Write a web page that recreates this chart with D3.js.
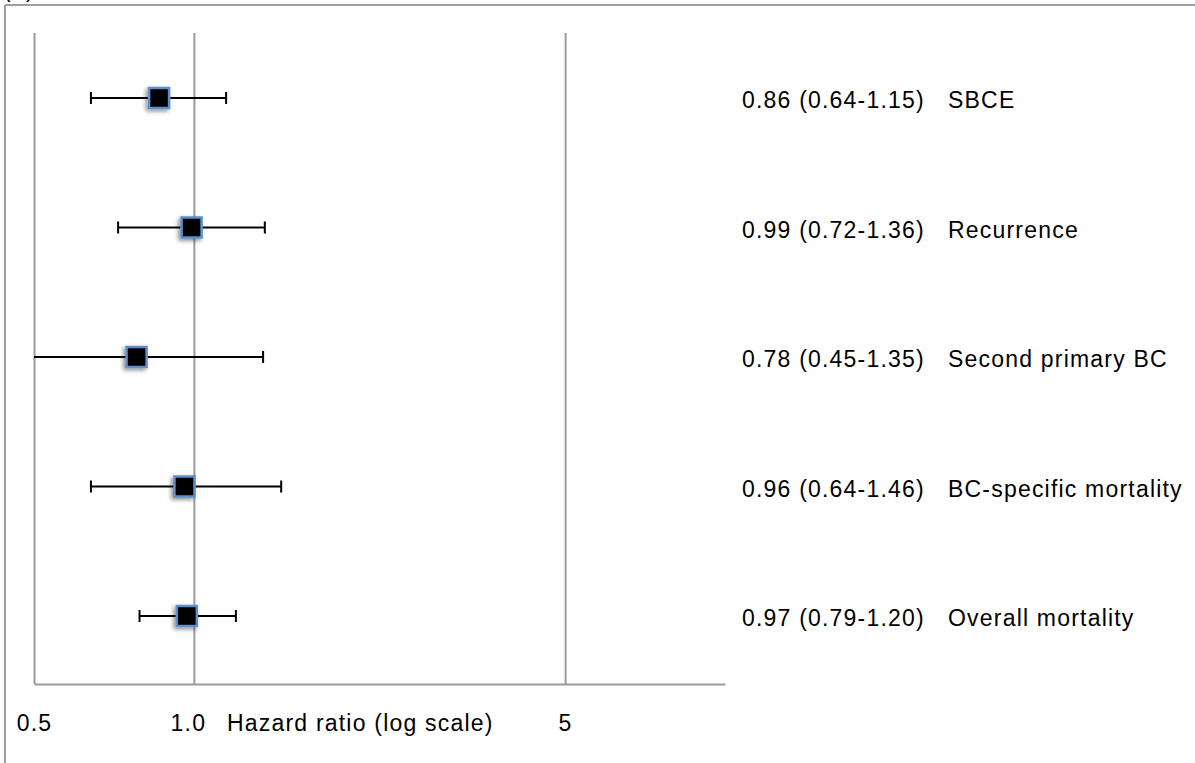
<html>
<head>
<meta charset="utf-8">
<script src="https://d3js.org/d3.v7.min.js"></script>
<style>
    body { margin: 0; background: #fff; }
    text { font-family: "Liberation Sans", Arial, Helvetica, sans-serif; fill: #000; }
    .axis path, .axis line { stroke: #9a9a9a; stroke-width: 2; }
    .axis text { font-size: 23px; letter-spacing: 1.2px; fill: #000; }
    .lbl { font-size: 23px; letter-spacing: 1.2px; }
</style>
</head>
<body>
<div id="chart"></div>
<script>
    // outcomes, top to bottom
    var outcomes = ['SBCE', 'Recurrence', 'Second primary BC', 'BC-specific mortality', 'Overall mortality'];
    var hr    = [0.86, 0.99, 0.78, 0.96, 0.97];
    var lower = [0.64, 0.72, 0.45, 0.64, 0.79];
    var upper = [1.15, 1.36, 1.35, 1.46, 1.20];
    var tickVals = [0.5, 1, 5];
    var tickLabels = ['0.5', '1.0', '5'];
    var axisTitle = 'Hazard ratio (log scale)';

    var W = 1195, H = 763;
    var svg = d3.select('#chart').append('svg')
        .attr('width', W).attr('height', H);

    // drop shadow for the squares
    var f = svg.append('defs').append('filter')
        .attr('id', 'shadow').attr('x', '-50%').attr('y', '-50%')
        .attr('width', '200%').attr('height', '200%');
    f.append('feDropShadow')
        .attr('dx', -2).attr('dy', 2).attr('stdDeviation', 2.2)
        .attr('flood-color', '#000').attr('flood-opacity', 0.45);

    // frame (only top and left show)
    svg.append('line').attr('x1', 5).attr('x2', W).attr('y1', 5).attr('y2', 5)
        .attr('stroke', '#a0a0a0').attr('stroke-width', 2);
    svg.append('line').attr('x1', 5).attr('x2', 5).attr('y1', 5).attr('y2', H)
        .attr('stroke', '#a0a0a0').attr('stroke-width', 2);
    svg.append('text').attr('x', 3).attr('y', -3)
        .style('font-size', '23px').text('(A)');

    var plotTop = 33, plotBottom = 684;
    var x = d3.scaleLog().domain([0.5, 10]).range([34, 725]);
    var y = d3.scalePoint().domain(outcomes).range([98, 616]);

    var axis = d3.axisBottom(x)
        .tickValues(tickVals)
        .tickSizeInner(-(plotBottom - plotTop))
        .tickSizeOuter(0)
        .tickPadding(31)
        .tickFormat(function(d, i) { return tickLabels[i]; });

    var gx = svg.append('g')
        .attr('class', 'axis')
        .attr('transform', 'translate(0,' + plotBottom + ')')
        .call(axis);
    gx.selectAll('.tick text').filter(function(d) { return d === 1; }).attr('dx', -6);

    svg.append('text')
        .attr('class', 'lbl')
        .attr('x', 227).attr('y', 731)
        .text(axisTitle);

    var rows = outcomes.map(function(name, i) {
        return { name: name, hr: hr[i], lo: lower[i], hi: upper[i] };
    });
    var xmin = x.domain()[0];

    var g = svg.selectAll('.row').data(rows).enter().append('g').attr('class', 'row');

    // whiskers
    g.append('line')
        .attr('x1', function(d) { return x(Math.max(d.lo, xmin)); })
        .attr('x2', function(d) { return x(d.hi); })
        .attr('y1', function(d) { return y(d.name); })
        .attr('y2', function(d) { return y(d.name); })
        .attr('stroke', '#000').attr('stroke-width', 2);

    // caps (no cap when clipped at the left edge)
    g.filter(function(d) { return d.lo >= xmin; }).append('line')
        .attr('x1', function(d) { return x(d.lo); })
        .attr('x2', function(d) { return x(d.lo); })
        .attr('y1', function(d) { return y(d.name) - 6; })
        .attr('y2', function(d) { return y(d.name) + 6; })
        .attr('stroke', '#000').attr('stroke-width', 2);
    g.append('line')
        .attr('x1', function(d) { return x(d.hi); })
        .attr('x2', function(d) { return x(d.hi); })
        .attr('y1', function(d) { return y(d.name) - 6; })
        .attr('y2', function(d) { return y(d.name) + 6; })
        .attr('stroke', '#000').attr('stroke-width', 2);

    var sq = 20;
    g.append('rect')
        .attr('x', function(d) { return x(d.hr) - sq / 2; })
        .attr('y', function(d) { return y(d.name) - sq / 2; })
        .attr('width', sq).attr('height', sq)
        .attr('fill', '#000')
        .attr('stroke', '#5b8fcc').attr('stroke-width', 2.5)
        .attr('filter', 'url(#shadow)');

    g.append('text')
        .attr('class', 'lbl')
        .attr('x', 742)
        .attr('y', function(d) { return y(d.name) + 10; })
        .text(function(d) {
            return d.hr.toFixed(2) + ' (' + d.lo.toFixed(2) + '-' + d.hi.toFixed(2) + ')';
        });

    g.append('text')
        .attr('class', 'lbl')
        .attr('x', 948)
        .attr('y', function(d) { return y(d.name) + 10; })
        .text(function(d) { return d.name; });
</script>
</body>
</html>
